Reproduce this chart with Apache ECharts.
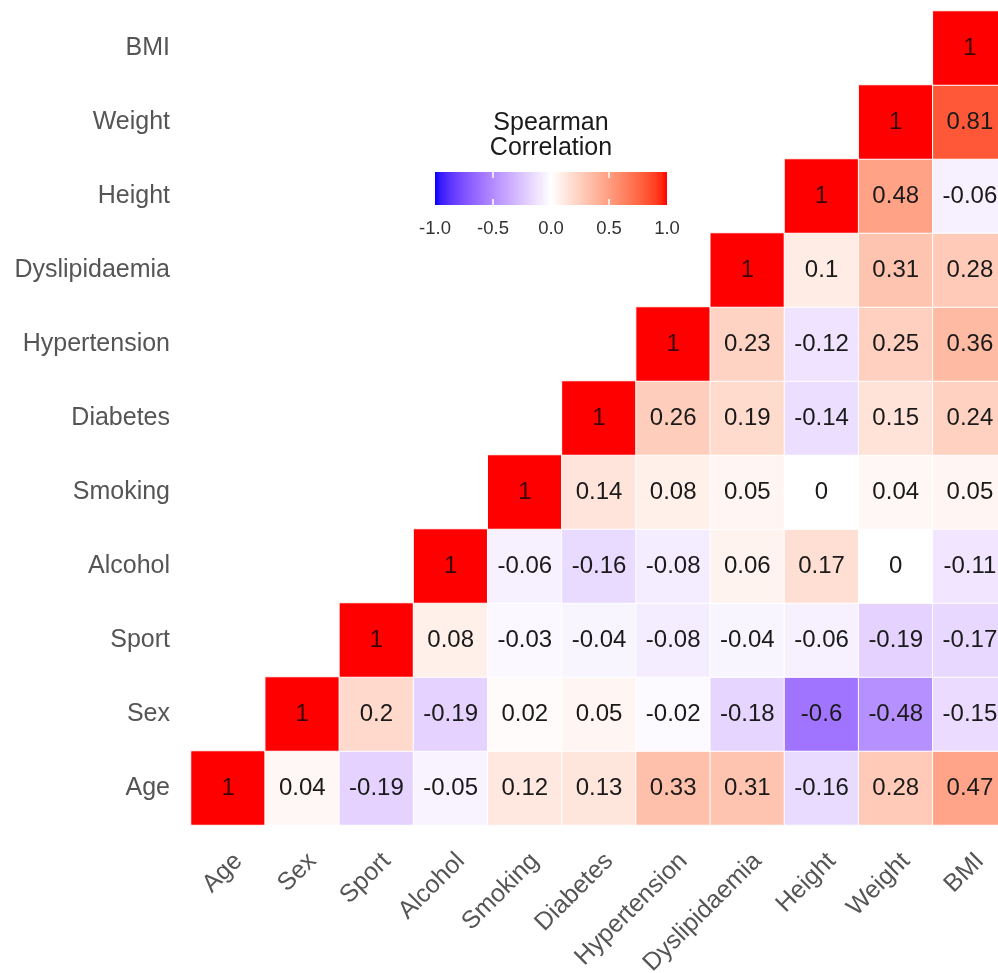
<!DOCTYPE html>
<html>
<head>
<meta charset="utf-8">
<script src="https://cdn.jsdelivr.net/npm/echarts@6/dist/echarts.min.js"></script>
<style>
  html, body { margin: 0; padding: 0; background: #fff; }
  #main { width: 998px; height: 973px; }
</style>
</head>
<body>
<div id="main"></div>
<script>
// variables, bottom to top on y, left to right on x
const vars = ['Age', 'Sex', 'Sport', 'Alcohol', 'Smoking', 'Diabetes',
  'Hypertension', 'Dyslipidaemia', 'Height', 'Weight', 'BMI'];

// each row starts at the diagonal and runs right to BMI
const rowAge = [1, 0.04, -0.19, -0.05, 0.12, 0.13, 0.33, 0.31, -0.16, 0.28, 0.47];
const rowSex = [1, 0.2, -0.19, 0.02, 0.05, -0.02, -0.18, -0.6, -0.48, -0.15];
const rowSport = [1, 0.08, -0.03, -0.04, -0.08, -0.04, -0.06, -0.19, -0.17];
const rowAlcohol = [1, -0.06, -0.16, -0.08, 0.06, 0.17, 0, -0.11];
const rowSmoking = [1, 0.14, 0.08, 0.05, 0, 0.04, 0.05];
const rowDiabetes = [1, 0.26, 0.19, -0.14, 0.15, 0.24];
const rowHypertension = [1, 0.23, -0.12, 0.25, 0.36];
const rowDyslipidaemia = [1, 0.1, 0.31, 0.28];
const rowHeight = [1, 0.48, -0.06];
const rowWeight = [1, 0.81];
const rowBMI = [1];

const legendTicks = [-1, -0.5, 0, 0.5, 1];

const rows = [rowAge, rowSex, rowSport, rowAlcohol, rowSmoking, rowDiabetes,
  rowHypertension, rowDyslipidaemia, rowHeight, rowWeight, rowBMI];

let cells = [];
rows.forEach((row, i) => {
  row.forEach((v, k) => {
    cells.push({
      value: [i + k, i, v],
      label: v === 1 ? { color: '#3a0000' } : undefined
    });
  });
});

// gradient2 style: blue - white - red, mixed in Lab like ggplot does
const toLin = c => { c /= 255; return c <= 0.04045 ? c / 12.92 : Math.pow((c + 0.055) / 1.055, 2.4); };
const toSrgb = c => {
  c = c <= 0.0031308 ? 12.92 * c : 1.055 * Math.pow(c, 1 / 2.4) - 0.055;
  return Math.round(Math.max(0, Math.min(1, c)) * 255);
};
const fLab = t => t > 0.008856 ? Math.cbrt(t) : 7.787 * t + 16 / 116;
const fInv = t => t * t * t > 0.008856 ? t * t * t : (t - 16 / 116) / 7.787;
const rgbToLab = (rgb) => {
  const r = toLin(rgb[0]), g = toLin(rgb[1]), b = toLin(rgb[2]);
  const X = (0.4124 * r + 0.3576 * g + 0.1805 * b) / 0.95047;
  const Y = 0.2126 * r + 0.7152 * g + 0.0722 * b;
  const Z = (0.0193 * r + 0.1192 * g + 0.9505 * b) / 1.08883;
  const fx = fLab(X), fy = fLab(Y), fz = fLab(Z);
  return [116 * fy - 16, 500 * (fx - fy), 200 * (fy - fz)];
};
const labToHex = (lab) => {
  const fy = (lab[0] + 16) / 116, fx = lab[1] / 500 + fy, fz = fy - lab[2] / 200;
  const X = fInv(fx) * 0.95047, Y = fInv(fy), Z = fInv(fz) * 1.08883;
  const r = 3.2406 * X - 1.5372 * Y - 0.4986 * Z;
  const g = -0.9689 * X + 1.8758 * Y + 0.0415 * Z;
  const b = 0.0557 * X - 0.2040 * Y + 1.0570 * Z;
  return '#' + [r, g, b].map(c => toSrgb(c).toString(16).padStart(2, '0')).join('');
};
const labBlue = rgbToLab([0, 0, 255]);
const labWhite = rgbToLab([255, 255, 255]);
const labRed = rgbToLab([255, 0, 0]);
const mix = (a, b, t) => a.map((x, i) => x + (b[i] - x) * t);

const nStops = 40;
let rampColors = [];
for (let s = 0; s <= nStops; s++) {
  const v = -1 + 2 * s / nStops;
  rampColors.push(v < 0 ? labToHex(mix(labWhite, labBlue, -v)) : labToHex(mix(labWhite, labRed, v)));
}

// colourbar legend
const barX = 435, barY = 172, barW = 232, barH = 33;
const font = '"Liberation Sans", Arial';
let legendEls = [
  { type: 'text', x: 551, y: 111, style: { text: 'Spearman', font: '25px ' + font, fill: '#1a1a1a', textAlign: 'center' } },
  { type: 'text', x: 551, y: 136, style: { text: 'Correlation', font: '25px ' + font, fill: '#1a1a1a', textAlign: 'center' } },
  {
    type: 'rect', shape: { x: barX, y: barY, width: barW, height: barH },
    style: {
      fill: new echarts.graphic.LinearGradient(0, 0, 1, 0,
        rampColors.map((c, s) => ({ offset: s / nStops, color: c })))
    }
  }
];
legendTicks.forEach(t => {
  const x = barX + (t + 1) / 2 * barW;
  if (t > -1 && t < 1) {
    legendEls.push({ type: 'line', shape: { x1: x, y1: barY, x2: x, y2: barY + 6 }, style: { stroke: '#fff', lineWidth: 1.5 } });
    legendEls.push({ type: 'line', shape: { x1: x, y1: barY + barH - 6, x2: x, y2: barY + barH }, style: { stroke: '#fff', lineWidth: 1.5 } });
  }
  legendEls.push({
    type: 'text', x: x, y: barY + barH + 14,
    style: { text: t.toFixed(1), font: '18.5px ' + font, fill: '#333', textAlign: 'center' }
  });
});

const chartDom = document.getElementById('main');
const myChart = echarts.init(chartDom);

const option = {
  animation: false,
  backgroundColor: '#fff',
  grid: { left: 191, top: 11, width: 816, height: 814, outerBoundsMode: 'none', containLabel: false },
  xAxis: {
    type: 'category',
    data: vars,
    axisLine: { show: false },
    axisTick: { show: false },
    splitLine: { show: false },
    axisLabel: {
      rotate: 45,
      margin: 22,
      align: 'right',
      verticalAlign: 'top',
      padding: [2, 0, 0, 0],
      color: '#555',
      fontSize: 25,
      fontFamily: font
    }
  },
  yAxis: {
    type: 'category',
    data: vars,
    axisLine: { show: false },
    axisTick: { show: false },
    splitLine: { show: false },
    axisLabel: {
      margin: 21,
      color: '#555',
      fontSize: 25,
      fontFamily: font
    }
  },
  visualMap: {
    show: false,
    min: -1,
    max: 1,
    dimension: 2,
    inRange: { color: rampColors }
  },
  graphic: legendEls,
  series: [
    {
      type: 'heatmap',
      data: cells,
      itemStyle: { borderColor: '#fff', borderWidth: 1 },
      label: {
        show: true,
        formatter: p => String(p.value[2]),
        color: '#1a1a1a',
        fontSize: 24,
        fontFamily: font
      },
      emphasis: { disabled: true }
    }
  ]
};

myChart.setOption(option);
</script>
</body>
</html>
